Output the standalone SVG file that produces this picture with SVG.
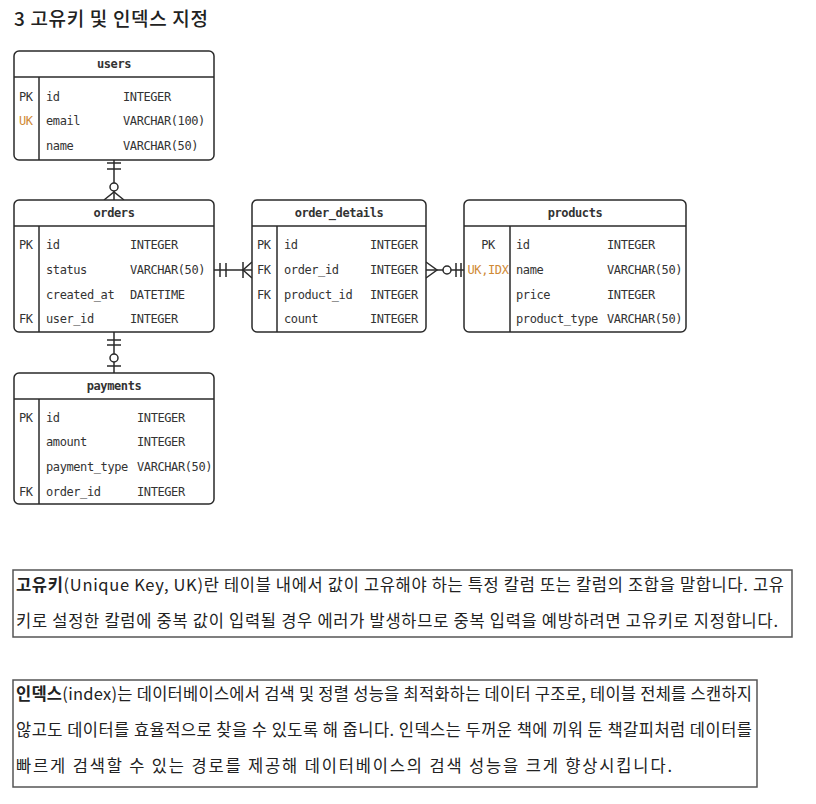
<svg xmlns="http://www.w3.org/2000/svg" width="816" height="804" viewBox="0 0 816 804">
<style>
.tbl{fill:#fff;stroke:#2a2a2a;stroke-width:1.5}
.ln{stroke:#2a2a2a;stroke-width:1.5;fill:none}
.hd{font-family:"DejaVu Sans Mono","Liberation Mono",monospace;font-size:12px;font-weight:bold;fill:#333;text-anchor:middle;letter-spacing:-0.4px}
.c{font-family:"DejaVu Sans Mono","Liberation Mono",monospace;font-size:12px;fill:#333;letter-spacing:-0.4px}
.uk{fill:#d08a35}
.kr{font-family:"Noto Sans CJK KR","Noto Sans",sans-serif;font-size:16.5px;fill:#222}
.box{fill:#fff;stroke:#555;stroke-width:1.5}
.cn{stroke:#2a2a2a;stroke-width:1.5;fill:none}
.cc{stroke:#2a2a2a;stroke-width:1.5;fill:#fff}
</style>
<text x="14" y="26" font-family="'Noto Sans CJK KR','Noto Sans',sans-serif" font-size="19" font-weight="500" fill="#222" textLength="194" lengthAdjust="spacing">3 고유키 및 인덱스 지정</text>

<g id="connectors">
  <line class="cn" x1="114" y1="160" x2="114" y2="200"/>
  <line class="cn" x1="107" y1="163" x2="121" y2="163"/>
  <line class="cn" x1="107" y1="169" x2="121" y2="169"/>
  <path class="cn" d="M104 200 L114 192 L124 200"/>
  <circle class="cc" cx="114" cy="187" r="4"/>

  <line class="cn" x1="214" y1="270" x2="252" y2="270"/>
  <line class="cn" x1="220" y1="263" x2="220" y2="277"/>
  <line class="cn" x1="226" y1="263" x2="226" y2="277"/>
  <line class="cn" x1="243" y1="262" x2="243" y2="278"/>
  <path class="cn" d="M252 262 L243 270 L252 278"/>

  <line class="cn" x1="426" y1="270" x2="464" y2="270"/>
  <path class="cn" d="M426 262 L437 270 L426 278"/>
  <circle class="cc" cx="447" cy="270" r="4"/>
  <line class="cn" x1="456" y1="263" x2="456" y2="277"/>
  <line class="cn" x1="461" y1="263" x2="461" y2="277"/>

  <line class="cn" x1="114" y1="332" x2="114" y2="373"/>
  <line class="cn" x1="107" y1="340" x2="121" y2="340"/>
  <line class="cn" x1="107" y1="345" x2="121" y2="345"/>
  <circle class="cc" cx="114" cy="358" r="4"/>
  <line class="cn" x1="107" y1="366" x2="121" y2="366"/>
</g>

<g id="users">
  <rect class="tbl" x="14" y="51" width="200" height="109" rx="5"/>
  <line class="ln" x1="14" y1="77" x2="214" y2="77"/>
  <line class="ln" x1="39" y1="77" x2="39" y2="160"/>
  <text class="hd" x="114" y="68">users</text>
  <text class="c" x="19" y="101">PK</text><text class="c" x="46" y="101">id</text><text class="c" x="123" y="101">INTEGER</text>
  <text class="c uk" x="19" y="125">UK</text><text class="c" x="46" y="125">email</text><text class="c" x="123" y="125">VARCHAR(100)</text>
  <text class="c" x="46" y="150">name</text><text class="c" x="123" y="150">VARCHAR(50)</text>
</g>

<g id="orders">
  <rect class="tbl" x="14" y="200" width="200" height="132" rx="5"/>
  <line class="ln" x1="14" y1="226" x2="214" y2="226"/>
  <line class="ln" x1="39" y1="226" x2="39" y2="332"/>
  <text class="hd" x="114" y="217">orders</text>
  <text class="c" x="19" y="249">PK</text><text class="c" x="46" y="249">id</text><text class="c" x="130" y="249">INTEGER</text>
  <text class="c" x="46" y="274">status</text><text class="c" x="130" y="274">VARCHAR(50)</text>
  <text class="c" x="46" y="299">created_at</text><text class="c" x="130" y="299">DATETIME</text>
  <text class="c" x="19" y="323">FK</text><text class="c" x="46" y="323">user_id</text><text class="c" x="130" y="323">INTEGER</text>
</g>

<g id="order_details">
  <rect class="tbl" x="252" y="200" width="174" height="132" rx="5"/>
  <line class="ln" x1="252" y1="226" x2="426" y2="226"/>
  <line class="ln" x1="277" y1="226" x2="277" y2="332"/>
  <text class="hd" x="339" y="217">order_details</text>
  <text class="c" x="257" y="249">PK</text><text class="c" x="284" y="249">id</text><text class="c" x="370" y="249">INTEGER</text>
  <text class="c" x="257" y="274">FK</text><text class="c" x="284" y="274">order_id</text><text class="c" x="370" y="274">INTEGER</text>
  <text class="c" x="257" y="299">FK</text><text class="c" x="284" y="299">product_id</text><text class="c" x="370" y="299">INTEGER</text>
  <text class="c" x="284" y="323">count</text><text class="c" x="370" y="323">INTEGER</text>
</g>

<g id="products">
  <rect class="tbl" x="464" y="200" width="222" height="132" rx="5"/>
  <line class="ln" x1="464" y1="226" x2="686" y2="226"/>
  <line class="ln" x1="510" y1="226" x2="510" y2="332"/>
  <text class="hd" x="575" y="217">products</text>
  <text class="c" x="488" y="249" text-anchor="middle">PK</text><text class="c" x="516" y="249">id</text><text class="c" x="607" y="249">INTEGER</text>
  <text class="c uk" x="488" y="274" text-anchor="middle">UK,IDX</text><text class="c" x="516" y="274">name</text><text class="c" x="607" y="274">VARCHAR(50)</text>
  <text class="c" x="516" y="299">price</text><text class="c" x="607" y="299">INTEGER</text>
  <text class="c" x="516" y="323">product_type</text><text class="c" x="607" y="323">VARCHAR(50)</text>
</g>

<g id="payments">
  <rect class="tbl" x="14" y="373" width="200" height="131" rx="5"/>
  <line class="ln" x1="14" y1="399" x2="214" y2="399"/>
  <line class="ln" x1="39" y1="399" x2="39" y2="504"/>
  <text class="hd" x="114" y="390">payments</text>
  <text class="c" x="19" y="422">PK</text><text class="c" x="46" y="422">id</text><text class="c" x="137" y="422">INTEGER</text>
  <text class="c" x="46" y="446">amount</text><text class="c" x="137" y="446">INTEGER</text>
  <text class="c" x="46" y="471">payment_type</text><text class="c" x="137" y="471">VARCHAR(50)</text>
  <text class="c" x="19" y="496">FK</text><text class="c" x="46" y="496">order_id</text><text class="c" x="137" y="496">INTEGER</text>
</g>

<g id="note-uk">
  <rect class="box" x="13" y="570" width="779" height="67"/>
  <text class="kr" x="16" y="591" textLength="768" lengthAdjust="spacing"><tspan font-weight="bold">고유키</tspan>(Unique Key, UK)란 테이블 내에서 값이 고유해야 하는 특정 칼럼 또는 칼럼의 조합을 말합니다. 고유</text>
  <text class="kr" x="16" y="627" textLength="762" lengthAdjust="spacing">키로 설정한 칼럼에 중복 값이 입력될 경우 에러가 발생하므로 중복 입력을 예방하려면 고유키로 지정합니다.</text>
</g>

<g id="note-index">
  <rect class="box" x="13" y="680" width="744" height="107"/>
  <text class="kr" x="16" y="700" textLength="736" lengthAdjust="spacing"><tspan font-weight="bold">인덱스</tspan>(index)는 데이터베이스에서 검색 및 정렬 성능을 최적화하는 데이터 구조로, 테이블 전체를 스캔하지</text>
  <text class="kr" x="16" y="736" textLength="736" lengthAdjust="spacing">않고도 데이터를 효율적으로 찾을 수 있도록 해 줍니다. 인덱스는 두꺼운 책에 끼워 둔 책갈피처럼 데이터를</text>
  <text class="kr" x="16" y="772" textLength="656" lengthAdjust="spacing">빠르게 검색할 수 있는 경로를 제공해 데이터베이스의 검색 성능을 크게 향상시킵니다.</text>
</g>
</svg>
